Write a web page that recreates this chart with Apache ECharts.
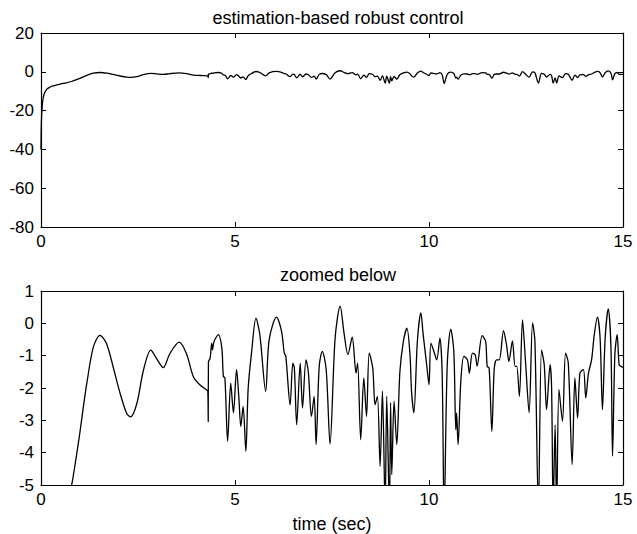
<!DOCTYPE html>
<html>
<head>
<meta charset="utf-8">
<script src="https://cdn.jsdelivr.net/npm/echarts@6/dist/echarts.min.js"></script>
<style>
html,body{margin:0;padding:0;background:#fff;}
#chart{width:637px;height:534px;}
</style>
</head>
<body>
<div id="chart"></div>
<script>
const topTitle = "estimation-based robust control";
const bottomTitle = "zoomed below";
const xAxisName = "time (sec)";

const times = [
  0, 0.01, 0.03, 0.06, 0.1, 0.15, 0.22, 0.3, 0.4, 0.5, 0.65, 0.79, 0.9, 1.0, 1.09, 1.18, 1.35, 1.52, 1.69, 1.86, 2.04, 2.21, 2.31, 2.47, 2.64, 2.83, 2.98, 3.15, 3.32, 3.56, 3.75, 3.93, 4.1, 4.28, 4.30, 4.31, 4.315, 4.36, 4.40, 4.42, 4.46, 4.57, 4.66, 4.70, 4.74, 4.81, 4.89, 4.96, 5.04, 5.10, 5.15, 5.21, 5.28, 5.34, 5.43, 5.54, 5.64, 5.79, 5.88, 6.07, 6.20, 6.27, 6.31, 6.42, 6.49, 6.53, 6.59, 6.68, 6.74, 6.83, 6.89, 6.97, 7.04, 7.09, 7.17, 7.25, 7.35, 7.45, 7.58, 7.71, 7.81, 7.91, 8.02, 8.12, 8.16, 8.24, 8.32, 8.39, 8.46, 8.55, 8.61, 8.67, 8.74, 8.80, 8.87, 8.91, 8.98, 9.01, 9.04, 9.10, 9.17, 9.25, 9.34, 9.43, 9.51, 9.55, 9.61, 9.70, 9.79, 9.85, 9.94, 10.0, 10.05, 10.14, 10.20, 10.28, 10.34, 10.39, 10.47, 10.56, 10.64, 10.69, 10.71, 10.75, 10.82, 10.90, 10.99, 11.04, 11.12, 11.19, 11.24, 11.37, 11.46, 11.50, 11.55, 11.62, 11.68, 11.74, 11.81, 11.92, 12.00, 12.06, 12.15, 12.22, 12.26, 12.33, 12.41, 12.49, 12.58, 12.67, 12.73, 12.82, 12.90, 12.97, 13.03, 13.12, 13.16, 13.20, 13.25, 13.29, 13.35, 13.44, 13.52, 13.59, 13.69, 13.76, 13.83, 13.89, 13.98, 14.04, 14.11, 14.19, 14.26, 14.34, 14.41, 14.47, 14.54, 14.62, 14.69, 14.73, 14.79, 14.85, 14.90, 14.95, 15.0
];
const values = [
  -40, -26, -18, -13, -10.5, -9, -8, -7.3, -6.8, -6.3, -5.7, -5, -4.2, -3.4, -2.6, -1.86, -0.73, -0.37, -0.63, -1.35, -2.17, -2.79, -2.89, -2.48, -1.45, -0.83, -1.09, -1.37, -0.94, -0.58, -0.94, -1.66, -1.91, -2.07, -2.1, -3.04, -1.2, -1.07, -0.61, -0.82, -0.56, -0.35, -0.76, -1.64, -1.69, -3.65, -1.85, -2.77, -1.43, -2.31, -3.19, -2.57, -3.96, -2.0, -0.87, 0.16, -0.35, -2.10, -0.51, 0.19, -0.25, -0.92, -1.02, -2.52, -1.23, -1.38, -3.14, -1.23, -2.62, -1.13, -1.5, -2.88, -2.26, -3.75, -1.33, -0.87, -1.43, -3.73, -0.46, 0.53, -0.30, -0.97, -0.43, -1.54, -1.23, -3.6, -1.69, -2.88, -0.92, -1.38, -2.52, -2.26, -4.42, -2.10, -5.8, -2.26, -5.8, -2.45, -4.68, -2.41, -3.75, -1.49, -0.56, -0.15, -0.97, -2.10, -2.77, -0.56, 0.32, -0.35, -1.28, -1.9, -0.61, -0.92, -1.13, -0.46, -1.59, -6.0, -1.28, -0.18, -0.87, -3.29, -2.77, -3.75, -1.79, -1.02, -1.13, -1.54, -0.92, -0.97, -1.32, -0.38, -0.56, -1.33, -1.38, -3.34, -1.43, -1.13, -1.13, -0.23, -0.68, -1.18, -0.54, -1.33, -1.33, -2.26, 0.11, -1.23, -2.77, 0.01, -0.56, -5.8, -0.82, -1.28, -2.67, -1.28, -2.0, -5.8, -3.14, -5.8, -2.05, -3.03, -0.92, -1.23, -4.37, -1.69, -2.93, -1.54, -1.43, -2.31, -1.54, -1.13, -0.35, 0.19, -0.46, -2.67, -0.46, 0.45, -0.76, -4.11, -0.97, -0.35, -1.28, -1.33, -1.36
];

const xRange = [0, 15], xStep = 5;
const topYRange = [-80, 20], topYStep = 20;
const botYRange = [-5, 1], botYStep = 1;

const series = times.map((t, i) => [t, values[i]]);

const font = "Liberation Sans, Arial, Helvetica, sans-serif";
const labelStyle = {color: '#000', fontSize: 17, fontFamily: font};
const nameStyle = {color: '#000', fontSize: 18, fontFamily: font};
const grids = [
  {left: 41, top: 33, width: 582, height: 194},
  {left: 41, top: 291, width: 582, height: 194}
];

function xAx(gi, pos, showLabel, name) {
  return {
    type: 'value', gridIndex: gi, position: pos, min: xRange[0], max: xRange[1], interval: xStep,
    axisLine: {show: true, onZero: false, lineStyle: {color: '#000', width: 1.2}},
    axisTick: {show: true, inside: true, length: 5, lineStyle: {color: '#000'}},
    axisLabel: Object.assign({show: showLabel, margin: 6}, labelStyle),
    splitLine: {show: false},
    name: name || '', nameLocation: 'middle', nameGap: 30,
    nameTextStyle: nameStyle
  };
}
function yAx(gi, pos, showLabel, rng, step) {
  return {
    type: 'value', gridIndex: gi, position: pos, min: rng[0], max: rng[1], interval: step,
    axisLine: {show: true, onZero: false, lineStyle: {color: '#000', width: 1.2}},
    axisTick: {show: true, inside: true, length: 5, lineStyle: {color: '#000'}},
    axisLabel: Object.assign({show: showLabel, margin: 7}, labelStyle),
    splitLine: {show: false}
  };
}

const chart = echarts.init(document.getElementById('chart'), null, {renderer: 'svg'});
chart.setOption({
  backgroundColor: '#fff',
  animation: false,
  title: [
    {text: topTitle, left: 333, top: 4, textAlign: 'center', textStyle: Object.assign({fontWeight: 'normal'}, nameStyle)},
    {text: bottomTitle, left: 333, top: 261, textAlign: 'center', textStyle: Object.assign({fontWeight: 'normal'}, nameStyle)}
  ],
  grid: grids,
  xAxis: [
    xAx(0, 'bottom', true), xAx(0, 'top', false),
    xAx(1, 'bottom', true, xAxisName), xAx(1, 'top', false)
  ],
  yAxis: [
    yAx(0, 'left', true, topYRange, topYStep), yAx(0, 'right', false, topYRange, topYStep),
    yAx(1, 'left', true, botYRange, botYStep), yAx(1, 'right', false, botYRange, botYStep)
  ],
  series: [
    {type: 'line', xAxisIndex: 0, yAxisIndex: 0, data: series, showSymbol: false, smooth: 0.3, clip: true,
     lineStyle: {color: '#000', width: 1.3}},
    {type: 'line', xAxisIndex: 2, yAxisIndex: 2, data: series, showSymbol: false, smooth: 0.3, clip: true,
     lineStyle: {color: '#000', width: 1.3}}
  ]
});
</script>
</body>
</html>
